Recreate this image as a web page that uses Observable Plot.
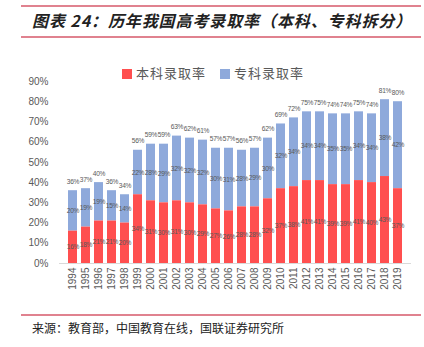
<!DOCTYPE html>
<html><head><meta charset="utf-8">
<script src="https://cdn.jsdelivr.net/npm/d3@7"></script>
<script src="https://cdn.jsdelivr.net/npm/@observablehq/plot@0.6"></script>
<style>
body{margin:0;background:#fff;width:424px;height:347px;overflow:hidden;position:relative;font-family:"Noto Sans CJK SC",sans-serif;}
.rule{position:absolute;left:21px;width:400px;height:0;border-top:2px solid #E0828F;}
#title{position:absolute;left:32px;top:8px;font-size:16px;font-weight:bold;font-style:italic;color:#222;white-space:nowrap;letter-spacing:0.9px;}
#chart{position:absolute;left:0;top:40px;}
#legend{position:absolute;top:63px;left:122px;font-size:13px;color:#595959;white-space:nowrap;letter-spacing:1px;}
#legend span.sw{display:inline-block;width:10px;height:10px;margin-right:4px;vertical-align:-1px;}
#source{position:absolute;left:32px;top:319px;font-size:12px;color:#222;white-space:nowrap;}
</style></head><body>
<div class="rule" style="top:5px"></div>
<div id="title">图表 24：历年我国高考录取率（本科、专科拆分）</div>
<div class="rule" style="top:36px"></div>
<div id="chart"></div>
<div id="legend"><span class="sw" style="background:#FF4F4F"></span>本科录取率<span style="display:inline-block;width:14px"></span><span class="sw" style="background:#8EA9DB"></span>专科录取率</div>
<div class="rule" style="top:314px"></div>
<div id="source">来源：教育部，中国教育在线，国联证券研究所</div>
<script>
const years = ["1994","1995","1996","1997","1998","1999","2000","2001","2002","2003","2004","2005","2006","2007","2008","2009","2010","2011","2012","2013","2014","2015","2016","2017","2018","2019"];
const benke = [16,18,21,21,20,34,31,30,31,30,29,27,26,28,28,32,37,38,41,41,39,39,41,40,43,37];
const zhuanke = [20,19,19,15,14,22,28,29,32,32,32,30,31,28,29,30,32,34,34,34,35,35,34,34,38,42];
const total = [36,37,40,36,34,56,59,59,63,62,61,57,57,56,57,62,69,72,75,75,74,74,75,74,81,80];
const yTicks = [0,10,20,30,40,50,60,70,80,90];

const data = years.map((y,i)=>({year:y,b:benke[i],z:zhuanke[i],t:total[i]}));
const RED="#FF4F4F", BLUE="#8EA9DB", GRAY="#595959";
const lbl = {fill:GRAY, fontSize:6.6, letterSpacing:"-0.3px"};
const plot = Plot.plot({
  width:424, height:265,
  marginTop:41, marginBottom:42, marginLeft:59, marginRight:13,
  style:{fontFamily:"'Liberation Sans',Arial,sans-serif", background:"transparent"},
  x:{domain:years, padding:0.33, label:null, tickRotate:-90, tickSize:0, tickPadding:4},
  y:{domain:[0,90], ticks:yTicks, tickFormat:d=>d+"%", label:null, tickSize:0, tickPadding:11},
  marks:[
    Plot.barY(data,{x:"year", y1:"b", y2:"t", fill:BLUE}),
    Plot.barY(data,{x:"year", y1:0, y2:"b", fill:RED}),
    Plot.ruleY([0],{stroke:"#D9D9D9", strokeWidth:1}),
    Plot.text(data,{x:"year", y:d=>d.b/2, text:d=>d.b+"%", ...lbl}),
    Plot.text(data,{x:"year", y:d=>(d.b+d.t)/2, text:d=>d.z+"%", ...lbl}),
    Plot.text(data,{x:"year", y:"t", dy:-9, text:d=>d.t+"%", ...lbl})
  ]
});
plot.querySelectorAll("g[aria-label='x-axis tick label'], g[aria-label='y-axis tick label']").forEach(g=>{g.setAttribute("fill",GRAY);g.setAttribute("font-size","10");});
plot.querySelectorAll("g[aria-label='text'] text").forEach(t=>t.style.letterSpacing="-0.3px");
document.getElementById("chart").appendChild(plot);
</script>
</body></html>
